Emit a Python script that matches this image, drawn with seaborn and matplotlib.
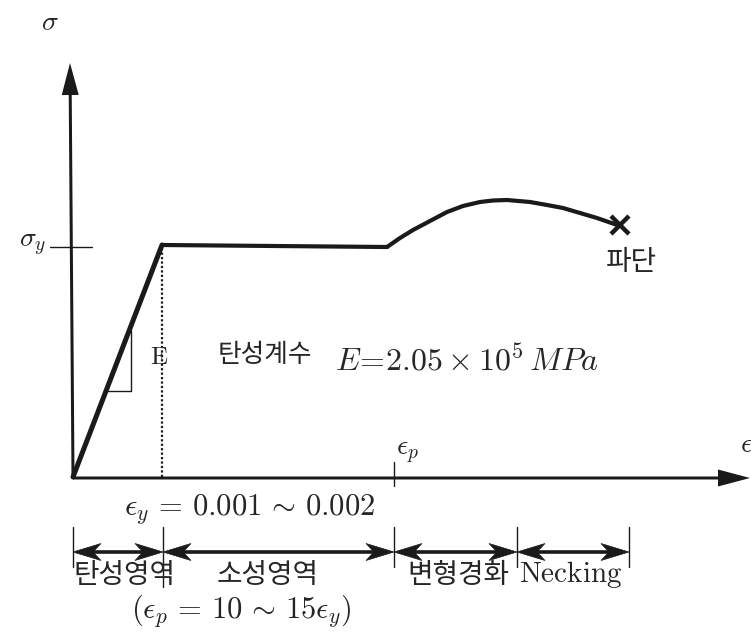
import matplotlib
matplotlib.use("Agg")
import matplotlib.pyplot as plt
import seaborn as sns
import pandas as pd
from matplotlib.patches import Polygon

# ---- data (strain / stress in drawing units, origin at the axes crossing) ----
elastic_strain = [0, 89]
elastic_stress = [0, 232]
plateau_strain = [89, 314]
plateau_stress = [232, 230]
hardening_strain = [314, 327, 340, 357, 374, 390, 407, 420, 434, 457, 474, 490, 507, 524, 547]
hardening_stress = [230, 239, 247, 256, 265, 271, 275, 276.5, 277, 275, 272, 269, 264, 259, 251]
fracture_point = (547, 252)
yield_stress = 230
yield_strain = 89
plastic_strain = 321
region_bounds = [0, 90, 321, 444, 556]
region_labels = ["탄성영역", "소성영역", "변형경화", r"$\mathrm{Necking}$"]

sns.set_theme(style="white")
plt.rcParams["font.family"] = ["Noto Sans CJK KR", "DejaVu Sans"]
plt.rcParams["mathtext.fontset"] = "cm"

W, H = 751, 636
OX, OY = 73, 477
fig = plt.figure(figsize=(W / 100, H / 100), dpi=100)
ax = fig.add_axes([0, 0, 1, 1])
ax.set_xlim(-OX, W - OX)
ax.set_ylim(OY - H, OY)
ax.axis("off")

def P(px, py):
    return px - OX, OY - py

# axes arrows
ax.arrow(0, 0, -3, 414, width=3, head_width=17, head_length=32,
         length_includes_head=True, fc="k", ec="k", lw=0)
ax.arrow(0, -1, 677, 0, width=3, head_width=17, head_length=32,
         length_includes_head=True, fc="k", ec="k", lw=0)

# curve
df_el = pd.DataFrame({"strain": elastic_strain, "stress": elastic_stress})
df_pl = pd.DataFrame({"strain": plateau_strain, "stress": plateau_stress})
df_hd = pd.DataFrame({"strain": hardening_strain, "stress": hardening_stress})
sns.lineplot(data=df_el, x="strain", y="stress", ax=ax, color="k", lw=3.6,
             sort=False, estimator=None, solid_capstyle="round")
sns.lineplot(data=df_pl, x="strain", y="stress", ax=ax, color="k", lw=3.0,
             sort=False, estimator=None)
sns.lineplot(data=df_hd, x="strain", y="stress", ax=ax, color="k", lw=3.0,
             sort=False, estimator=None, solid_joinstyle="round")
ax.plot([fracture_point[0]], [fracture_point[1]], marker="x", ms=13, mew=3.2, color="k")

# dotted line at yield strain
ax.plot([yield_strain, yield_strain], [0, plateau_stress[0]], color="k", lw=1.6, ls=(0, (1, 1)))

# slope triangle
ax.plot([P(108, 391)[0], P(131, 391)[0], P(131, 330)[0]],
        [P(108, 391)[1], P(131, 391)[1], P(131, 330)[1]], color="k", lw=1.0)

# sigma_y tick and eps_p tick
ax.plot([P(50, 0)[0], P(92, 0)[0]], [yield_stress, yield_stress], color="k", lw=1.0)
ax.plot([plastic_strain, plastic_strain], [P(0, 462)[1], P(0, 486)[1]], color="k", lw=1.0)

# labels
ax.text(*P(50, 22), r"$\sigma$", fontsize=20, ha="center", va="center")
ax.text(*P(46, 243), r"$\sigma_y$", fontsize=20, ha="right", va="center")
ax.text(*P(407, 451), r"$\epsilon_p$", fontsize=20, ha="center", va="center")
ax.text(*P(740, 444), r"$\epsilon$", fontsize=20, ha="left", va="center")
ax.text(*P(159, 357), r"$\mathrm{E}$", fontsize=18, ha="center", va="center")
ax.text(*P(218, 355), "탄성계수", fontsize=18.5, ha="left", va="center")
ax.text(*P(335, 362), r"$E\!=\!2.05\times10^5\,MPa$", fontsize=23, ha="left", va="center")
ax.text(*P(631, 262), "파단", fontsize=20, ha="center", va="center")
ax.text(*P(250, 509), r"$\epsilon_y\,=\,0.001\,\sim\,0.002$", fontsize=22, ha="center", va="center")
ax.text(*P(241, 611), r"$(\epsilon_p\,=\,10\,\sim\,15\epsilon_y)$", fontsize=22, ha="center", va="center")

# region dimension arrows
ya = P(0, 552)[1]
for b in region_bounds:
    bot = P(0, 587)[1] if b == region_bounds[1] else P(0, 567)[1]
    ax.plot([b, b], [P(0, 527)[1], bot], color="k", lw=1.0)

def head(x, y, d):
    L, hw, notch = 28, 8.5, 20
    ax.add_patch(Polygon([(x, y), (x - d * L, y + hw), (x - d * notch, y), (x - d * L, y - hw)],
                         closed=True, fc="k", ec="k", lw=0.5))

label_x = [125, 268, 458, 571]
for i in range(len(region_bounds) - 1):
    a, b = region_bounds[i], region_bounds[i + 1]
    ax.plot([a + 10, b - 10], [ya, ya], color="k", lw=2.6)
    head(a, ya, -1)
    head(b, ya, 1)
    fs = 21 if i == 3 else 20
    ax.text(P(label_x[i], 0)[0], P(0, 575)[1], region_labels[i], fontsize=fs,
            ha="center", va="center")

fig.savefig("out.png", dpi=100)
